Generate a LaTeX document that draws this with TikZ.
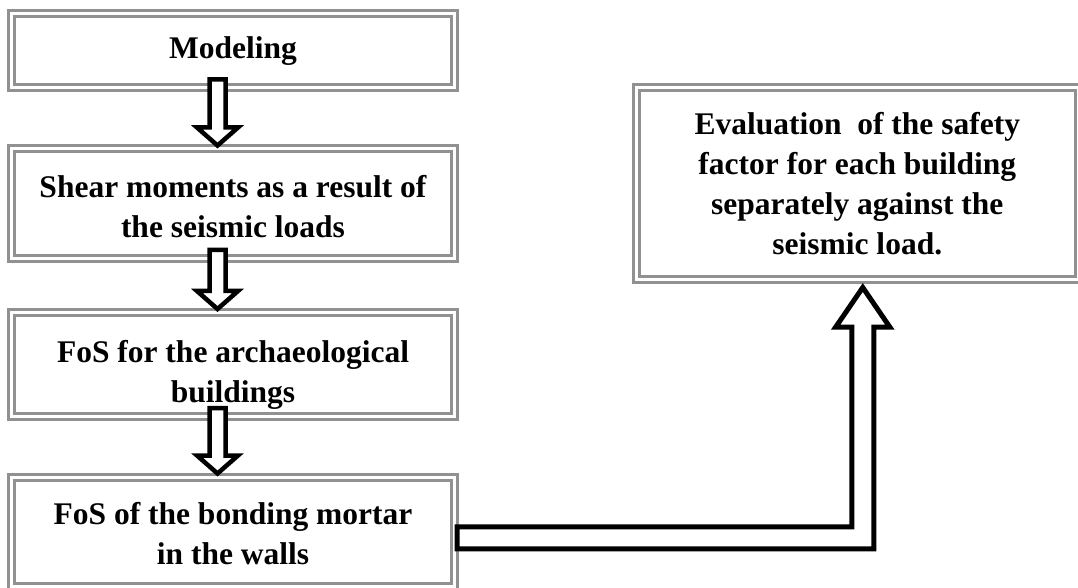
\documentclass[tikz,border=0pt]{standalone}
\usepackage{fontspec}
\setmainfont{Liberation Serif}
\usetikzlibrary{calc}

\definecolor{framegray}{RGB}{145,145,145}

\tikzset{
  stage/.style={draw=framegray, double=white, double distance=3pt, line width=3pt,
    minimum width=443pt, inner sep=0pt, align=center,
    font=\fontsize{31.5}{40}\selectfont\bfseries},
  blockarr/.style={draw=black, fill=white, line width=4.5pt, miter limit=10}
}

% hollow arrow between two stacked boxes
\newcommand{\blockdown}[2]{%
  \draw[blockarr] let \p1=(#1.south), \p2=(#2.north) in
    (\x1-23.5,\y1+10) -- (\x1-23.5,\y2+20) -- (\x1-36,\y2+20) -- (\x1-15.5,\y2+2)
    -- (\x1+5,\y2+20) -- (\x1-7.5,\y2+20) -- (\x1-7.5,\y1+10) -- cycle;}

\begin{document}
\begin{tikzpicture}[x=1pt, y=1pt]
  \useasboundingbox (0,0) rectangle (1078,587);
  % Left column
  \node[stage, minimum height=74.5pt] (model) at (233,536.25) {Modeling};
  \node[stage, minimum height=109.5pt] (shear) at (233,383.25)
    {\rule{0pt}{27.5pt}Shear moments as a result of\\the seismic loads};
  \node[stage, minimum height=104pt] (fos) at (233,222.5)
    {\rule{0pt}{43pt}FoS for the archaeological\\buildings};
  \node[stage, minimum height=109.5pt] (mortar) at (233,55.25)
    {\rule{0pt}{25pt}FoS of the bonding mortar\\in the walls};
  % Result box
  \node[stage, minimum width=442.5pt, minimum height=191.5pt] (eval) at (857.25,403.25)
    {Evaluation\ \ of the safety\\factor for each building\\separately against the\\seismic load.};
  % Down arrows
  \blockdown{model}{shear}
  \blockdown{shear}{fos}
  \blockdown{fos}{mortar}
  % Elbow arrow to the result
  \draw[blockarr, line width=5pt] let \p1=(mortar.east), \p2=(eval.south) in
    (\x1+1,\y1+5) -- (\x2-5.5,\y1+5) -- (\x2-5.5,\y2-46) -- (\x2-21.5,\y2-46)
    -- (\x2+5.5,\y2-6.5) -- (\x2+32.5,\y2-46) -- (\x2+16.5,\y2-46)
    -- (\x2+16.5,\y1-17) -- (\x1+1,\y1-17) -- cycle;
\end{tikzpicture}
\end{document}
